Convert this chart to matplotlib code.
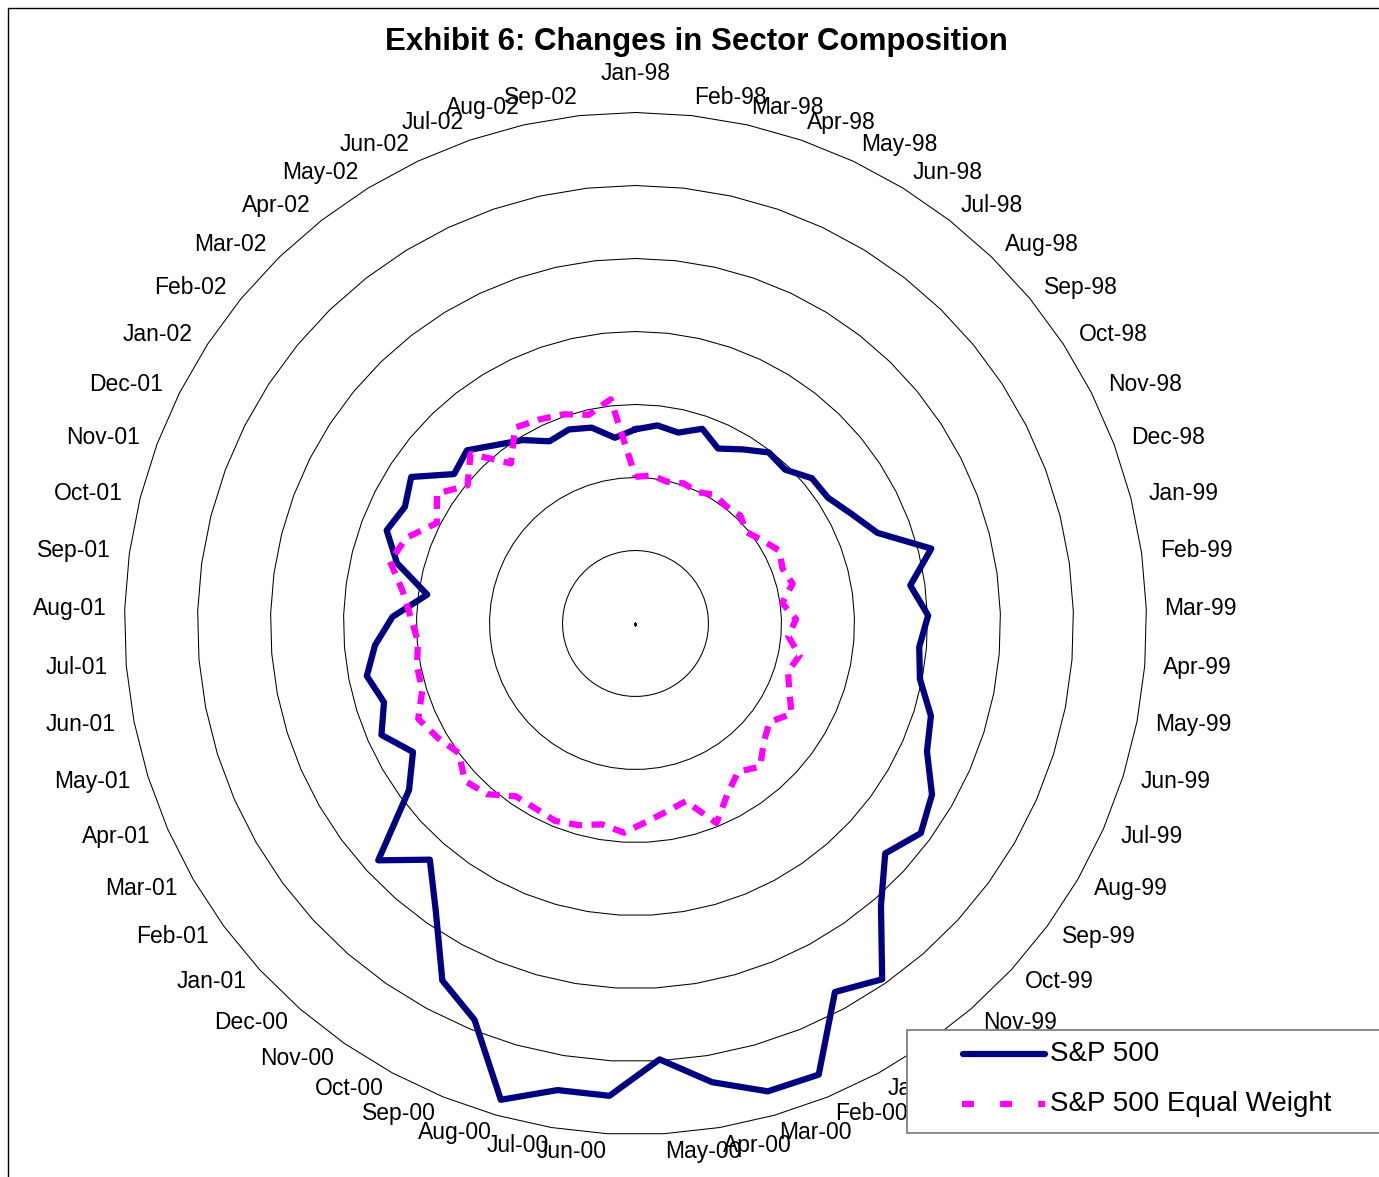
import numpy as np
import matplotlib
matplotlib.use("Agg")
import matplotlib.pyplot as plt
from matplotlib.lines import Line2D
from matplotlib.patches import Rectangle

plt.rcParams["font.family"] = ["Liberation Sans", "DejaVu Sans"]

# data
months = [
    "Jan-98", "Feb-98", "Mar-98", "Apr-98", "May-98", "Jun-98", "Jul-98", "Aug-98", "Sep-98", "Oct-98", "Nov-98", "Dec-98",
    "Jan-99", "Feb-99", "Mar-99", "Apr-99", "May-99", "Jun-99", "Jul-99", "Aug-99", "Sep-99", "Oct-99", "Nov-99", "Dec-99",
    "Jan-00", "Feb-00", "Mar-00", "Apr-00", "May-00", "Jun-00", "Jul-00", "Aug-00", "Sep-00", "Oct-00", "Nov-00", "Dec-00",
    "Jan-01", "Feb-01", "Mar-01", "Apr-01", "May-01", "Jun-01", "Jul-01", "Aug-01", "Sep-01", "Oct-01", "Nov-01", "Dec-01",
    "Jan-02", "Feb-02", "Mar-02", "Apr-02", "May-02", "Jun-02", "Jul-02", "Aug-02", "Sep-02",
]

sp500 = [
    2.66, 2.73, 2.68, 2.82, 2.65, 2.80, 2.97, 2.94, 3.13, 3.15, 3.32, 3.54,
    4.18, 3.80, 4.01, 3.90, 3.97, 4.24, 4.36, 4.69, 4.85, 4.65, 5.12, 5.93,
    5.74, 6.67, 6.66, 6.37, 5.98, 6.48, 6.48, 6.78, 5.86, 5.56, 4.80, 4.29,
    4.79, 3.85, 3.52, 3.80, 3.61, 3.75, 3.58, 3.33, 2.88, 3.37, 3.64, 3.54,
    3.67, 3.22, 3.31, 3.10, 2.95, 2.76, 2.81, 2.75, 2.56,
]

sp500_ew = [
    2.01, 2.04, 1.99, 2.03, 1.99, 2.07, 2.03, 2.06, 1.97, 2.08, 2.21, 2.15,
    2.22, 2.03, 2.20, 2.10, 2.29, 2.19, 2.30, 2.47, 2.28, 2.39, 2.60, 2.47,
    2.65, 2.95, 2.53, 2.61, 2.72, 2.87, 2.79, 2.87, 2.92, 2.88, 2.88, 3.10,
    3.18, 3.00, 3.13, 3.25, 3.06, 3.05, 2.99, 3.08, 3.22, 3.47, 3.35, 3.05,
    3.25, 2.98, 3.24, 2.78, 3.15, 3.09, 3.03, 2.93, 3.09,
]

rings = [1, 2, 3, 4, 5, 6, 7]

W, H = 1379, 1177
fig = plt.figure(figsize=(W / 100, H / 100), dpi=100)

# polar axes placed so the outer ring matches the reference
cx, cy, R = 635.5, 623.5, 511
ax = fig.add_axes([(cx - R) / W, (H - cy - R) / H, 2 * R / W, 2 * R / H], projection="polar")
ax.set_theta_zero_location("N")
ax.set_theta_direction(-1)
ax.set_ylim(0, 7)
ax.set_axis_off()

n = len(months)
theta = np.arange(n) * 2 * np.pi / n
tc = np.append(theta, theta[0])

# polygon gridlines like an Excel radar chart
for r in rings:
    ax.plot(tc, [r] * (n + 1), color="black", lw=0.75, clip_on=False)
ax.plot([0], [0], marker="s", ms=1.2, color="black")

ax.plot(tc, np.append(sp500, sp500[0]), color="#000080", lw=4.5, clip_on=False, zorder=3)
ax.plot(tc, np.append(sp500_ew, sp500_ew[0]), color="#FF00FF", lw=4.5,
        ls=(0, (2.1, 1.5)), clip_on=False, zorder=3)

# category labels around the outside
for th, lab in zip(theta, months):
    s = np.sin(th)
    if abs(s) < 1e-6:
        ax.text(th, 7.54, lab, ha="center", va="center", fontsize=16.5)
    else:
        ax.text(th, 7.25, lab, ha="left" if s > 0 else "right", va="center", fontsize=16.5)

fig.text(696 / W, 1 - 42 / H, "Exhibit 6: Changes in Sector Composition",
         ha="center", va="center", fontsize=22.5, fontweight="bold")

# outer chart border (right and bottom edges fall off the canvas)
fig.add_artist(Rectangle((8 / W, -0.1), 1.2, 1 - 8 / H + 0.1, transform=fig.transFigure,
                         fill=False, edgecolor="black", lw=1.0))

# legend box
fig.add_artist(Rectangle((907 / W, 1 - 1133 / H), 0.5, 103 / H, transform=fig.transFigure,
                         facecolor="white", edgecolor="#808080", lw=1.3, zorder=5))
y1 = 1 - 1054 / H
y2 = 1 - 1104 / H
fig.add_artist(Line2D([963 / W, 1045 / W], [y1, y1], transform=fig.transFigure,
                      color="#000080", lw=4.5, solid_capstyle="round", zorder=6))
fig.add_artist(Line2D([962 / W, 1045 / W], [y2, y2], transform=fig.transFigure,
                      color="#FF00FF", lw=4.5, ls=(0, (1.9, 4.2)), zorder=6))
fig.text(1050 / W, y1, "S&P 500", ha="left", va="center", fontsize=20, zorder=6)
fig.text(1050 / W, y2, "S&P 500 Equal Weight", ha="left", va="center", fontsize=20, zorder=6)

fig.savefig("out.png", dpi=100)
